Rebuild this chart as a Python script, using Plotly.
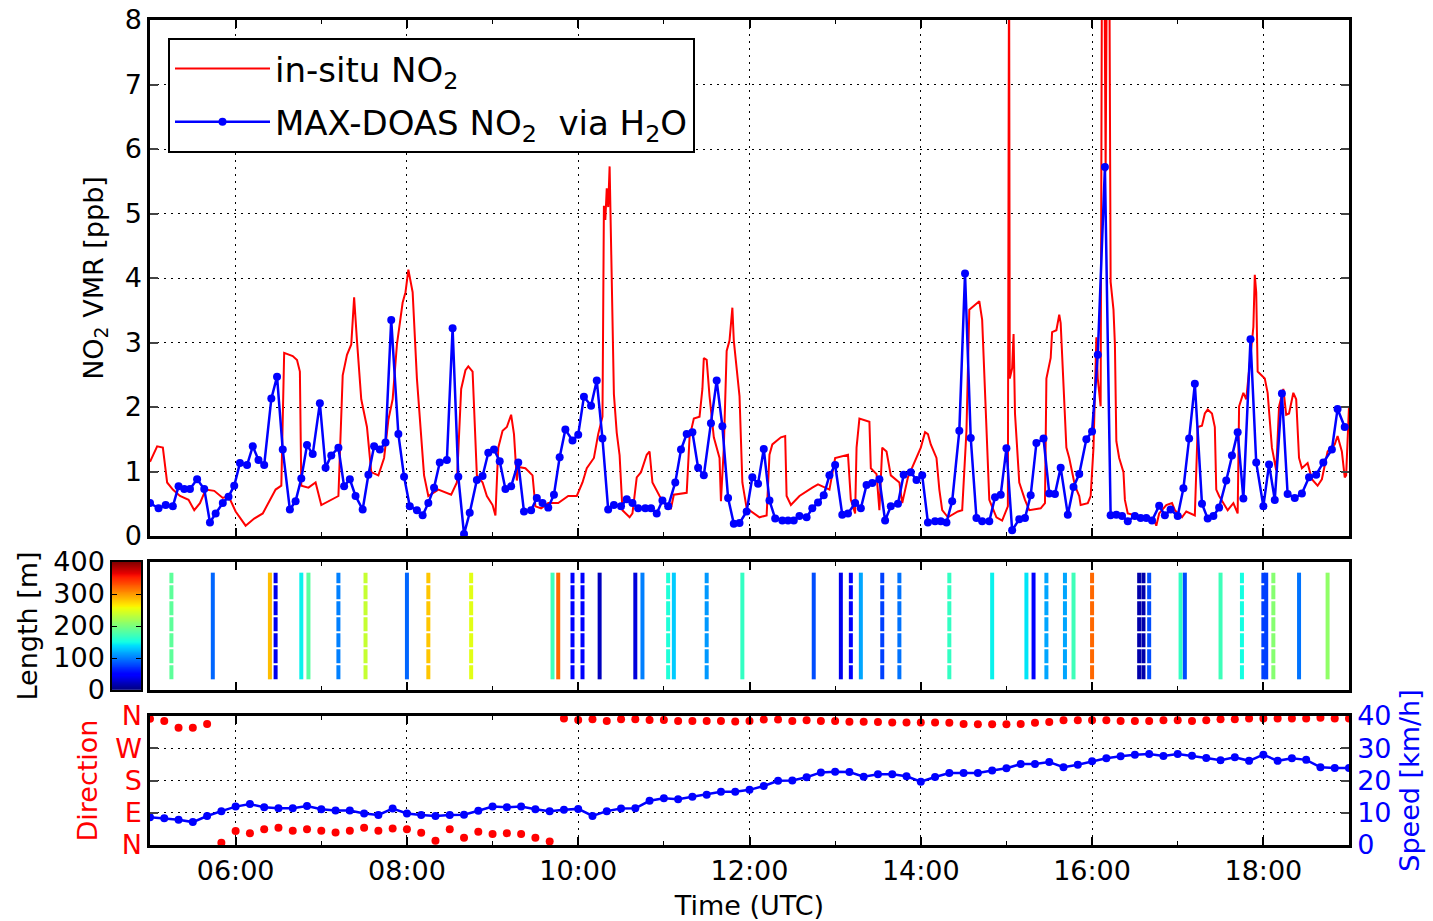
import numpy as np
import plotly.graph_objects as go

DAY = "2016-07-07 "

# ---------------- in-situ NO2 (ppb) ----------------
insitu_time = [
    "05:00", "05:05", "05:09", "05:10", "05:12", "05:16", "05:21", "05:27", "05:31", "05:35",
    "05:39", "05:45", "05:51", "05:55", "06:00", "06:07", "06:13", "06:19", "06:24", "06:28",
    "06:32", "06:34", "06:40", "06:43", "06:45", "06:46", "06:51", "06:56", "07:00", "07:07",
    "07:12", "07:15", "07:18", "07:21", "07:23", "07:25", "07:28", "07:32", "07:35", "07:40",
    "07:44", "07:47", "07:50", "07:53", "07:57", "07:59", "08:01", "08:04", "08:07", "08:12",
    "08:15", "08:22", "08:31", "08:35", "08:38", "08:41", "08:43", "08:46", "08:48", "08:49",
    "08:53", "08:56", "09:00", "09:02", "09:04", "09:07", "09:10", "09:13", "09:15", "09:17",
    "09:18", "09:23", "09:28", "09:30", "09:34", "09:39", "09:46", "09:53", "09:59", "10:03",
    "10:06", "10:11", "10:14", "10:17", "10:18", "10:19", "10:20", "10:21", "10:22", "10:23",
    "10:24", "10:25", "10:27", "10:29", "10:31", "10:36", "10:38", "10:41", "10:44", "10:48",
    "10:50", "10:52", "10:57", "11:02", "11:05", "11:07", "11:16", "11:18", "11:21", "11:25",
    "11:27", "11:28", "11:30", "11:32", "11:35", "11:39", "11:40", "11:42", "11:44", "11:46",
    "11:48", "11:49", "11:53", "11:55", "11:58", "12:07", "12:12", "12:14", "12:16", "12:22",
    "12:25", "12:26", "12:29", "12:35", "12:44", "12:48", "12:56", "13:00", "13:09", "13:11",
    "13:14", "13:15", "13:17", "13:24", "13:25", "13:29", "13:31", "13:33", "13:36", "13:39",
    "13:45", "13:47", "13:51", "13:58", "14:00", "14:03", "14:05", "14:07", "14:11", "14:13",
    "14:15", "14:19", "14:26", "14:29", "14:32", "14:34", "14:41", "14:43", "14:46", "14:48",
    "14:53", "14:57", "15:01:00", "15:01:20", "15:01:50", "15:02:20", "15:04", "15:05", "15:06", "15:09",
    "15:13", "15:16", "15:24", "15:27", "15:28", "15:31", "15:32", "15:35", "15:37", "15:38",
    "15:40", "15:42", "15:44", "15:48", "15:51", "15:52", "15:57", "15:59", "16:01", "16:03",
    "16:04", "16:06", "16:07", "16:08:30", "16:09:30", "16:10:30", "16:12", "16:13", "16:15", "16:16",
    "16:17", "16:19", "16:22", "16:23", "16:25", "16:36", "16:43", "16:45", "16:47", "16:52",
    "16:56", "16:58", "17:03", "17:06", "17:12", "17:14", "17:17", "17:19", "17:21", "17:24",
    "17:26", "17:27", "17:29", "17:33", "17:35", "17:39", "17:42", "17:43", "17:46", "17:48",
    "17:50", "17:53", "17:54", "17:55", "17:56", "18:01", "18:03", "18:06", "18:09", "18:11",
    "18:14", "18:16", "18:18", "18:21", "18:23", "18:25", "18:27", "18:31", "18:34", "18:38",
    "18:41", "18:45", "18:50", "18:52", "18:55", "18:57", "18:58", "19:00",
]
insitu_no2 = [
    1.15, 1.39, 1.37, 1.21, 0.83, 0.72, 0.62, 0.56, 0.40, 0.51,
    0.72, 0.70, 0.59, 0.62, 0.38, 0.16, 0.27, 0.35, 0.56, 0.72,
    0.78, 2.84, 2.79, 2.73, 2.55, 0.78, 0.75, 0.83, 0.48, 0.56,
    0.62, 2.49, 2.81, 2.97, 3.70, 3.03, 2.12, 1.69, 0.99, 0.94,
    1.21, 1.80, 2.12, 2.97, 3.62, 3.78, 4.13, 3.78, 2.44, 0.94,
    0.62, 0.72, 0.64, 0.83, 2.28, 2.57, 2.63, 2.55, 1.53, 0.94,
    0.83, 0.62, 0.48, 0.32, 1.37, 1.63, 1.69, 1.88, 1.58, 0.86,
    1.07, 1.05, 0.94, 0.46, 0.43, 0.51, 0.51, 0.62, 0.62, 0.83,
    1.05, 1.21, 1.58, 1.85, 5.12, 4.90, 5.39, 5.10, 5.73, 4.69,
    3.20, 2.20, 1.60, 1.25, 0.40, 0.29, 0.35, 0.91, 0.99, 1.26,
    1.31, 0.83, 0.62, 0.46, 0.43, 0.64, 0.67, 1.53, 1.82, 1.85,
    2.28, 2.76, 2.73, 2.17, 1.53, 1.21, 0.54, 1.37, 2.87, 3.03,
    3.54, 3.03, 2.17, 0.83, 0.43, 0.29, 0.32, 1.26, 1.42, 1.53,
    1.55, 0.62, 0.48, 0.62, 0.75, 0.80, 0.72, 1.21, 1.26, 0.56,
    0.35, 1.37, 1.82, 1.77, 1.05, 0.96, 0.40, 1.37, 1.31, 0.94,
    0.83, 0.51, 0.91, 1.26, 1.37, 1.61, 1.58, 1.42, 1.21, 0.72,
    0.40, 0.29, 0.38, 0.40, 1.63, 3.51, 3.64, 3.35, 1.74, 0.56,
    0.29, 0.24, 0.46, 9.50, 9.50, 2.44, 2.60, 3.13, 1.90, 0.83,
    0.56, 0.40, 0.43, 0.51, 2.44, 2.76, 3.16, 3.19, 3.43, 3.30,
    2.44, 1.37, 1.21, 0.78, 0.62, 0.48, 0.51, 0.62, 1.37, 3.08,
    2.44, 2.01, 9.50, 9.50, 5.65, 9.50, 9.50, 3.94, 3.51, 2.97,
    1.47, 1.21, 0.99, 0.56, 0.35, 0.29, 0.27, 0.16, 0.35, 0.48,
    0.51, 0.40, 0.29, 0.38, 0.32, 1.69, 1.71, 1.90, 1.96, 1.90,
    1.69, 0.72, 0.62, 0.46, 0.40, 0.51, 0.35, 2.01, 2.22, 2.12,
    2.55, 3.24, 4.05, 3.78, 2.55, 2.44, 2.22, 1.37, 1.02, 2.01,
    2.28, 1.88, 1.90, 2.22, 2.12, 1.21, 1.05, 1.13, 0.88, 0.78,
    0.88, 1.31, 1.42, 1.55, 1.31, 0.91, 0.94, 2.01,
]

# ---------------- MAX-DOAS NO2 via H2O (ppb) ----------------
doas_time = [
    "05:00", "05:06", "05:11", "05:16", "05:20", "05:24", "05:28", "05:33", "05:38", "05:42",
    "05:46", "05:51", "05:55", "05:59", "06:03", "06:08", "06:12", "06:16", "06:20", "06:25",
    "06:29", "06:33", "06:38", "06:42", "06:46", "06:50", "06:54", "06:59", "07:03", "07:07",
    "07:12", "07:16", "07:20", "07:24", "07:29", "07:33", "07:37", "07:41", "07:45", "07:49",
    "07:54", "07:58", "08:02", "08:07", "08:11", "08:15", "08:19", "08:23", "08:28", "08:32",
    "08:36", "08:40", "08:44", "08:49", "08:53", "08:57", "09:01", "09:05", "09:09", "09:13",
    "09:18", "09:22", "09:27", "09:31", "09:35", "09:39", "09:43", "09:47", "09:51", "09:56",
    "10:00", "10:04", "10:09", "10:13", "10:17", "10:21", "10:25", "10:30", "10:34", "10:38",
    "10:42", "10:47", "10:51", "10:55", "10:59", "11:03", "11:08", "11:12", "11:16", "11:20",
    "11:24", "11:28", "11:33", "11:37", "11:41", "11:45", "11:49", "11:53", "11:58", "12:02",
    "12:06", "12:10", "12:14", "12:18", "12:23", "12:27", "12:31", "12:35", "12:40", "12:44",
    "12:48", "12:52", "12:56", "13:00", "13:05", "13:09", "13:14", "13:18", "13:22", "13:26",
    "13:31", "13:35", "13:39", "13:44", "13:48", "13:53", "13:57", "14:01", "14:05", "14:10",
    "14:14", "14:18", "14:22", "14:27", "14:31", "14:35", "14:39", "14:43", "14:48", "14:52",
    "14:56", "15:00", "15:04", "15:09", "15:13", "15:17", "15:21", "15:26", "15:30", "15:34",
    "15:38", "15:43", "15:47", "15:51", "15:56", "16:00", "16:04", "16:09", "16:13", "16:17",
    "16:21", "16:25", "16:30", "16:34", "16:38", "16:42", "16:47", "16:51", "16:55", "17:00",
    "17:04", "17:08", "17:12", "17:17", "17:21", "17:25", "17:29", "17:34", "17:38", "17:42",
    "17:46", "17:51", "17:55", "18:00", "18:04", "18:08", "18:13", "18:17", "18:22", "18:27",
    "18:32", "18:37", "18:42", "18:48", "18:52", "18:57",
]
doas_no2 = [
    0.51, 0.43, 0.48, 0.46, 0.77, 0.73, 0.73, 0.88, 0.73, 0.21,
    0.35, 0.51, 0.61, 0.78, 1.13, 1.10, 1.39, 1.18, 1.10, 2.13,
    2.47, 1.34, 0.41, 0.54, 0.89, 1.41, 1.27, 2.06, 1.06, 1.25,
    1.37, 0.77, 0.88, 0.62, 0.41, 0.95, 1.39, 1.34, 1.45, 3.35,
    1.58, 0.92, 0.46, 0.40, 0.32, 0.51, 0.75, 1.14, 1.18, 3.22,
    0.92, 0.03, 0.36, 0.87, 0.93, 1.29, 1.34, 1.16, 0.73, 0.77,
    1.14, 0.38, 0.40, 0.59, 0.51, 0.44, 0.64, 1.22, 1.65, 1.48,
    1.57, 2.16, 2.02, 2.41, 1.51, 0.41, 0.48, 0.46, 0.57, 0.51,
    0.43, 0.43, 0.43, 0.35, 0.55, 0.46, 0.83, 1.34, 1.58, 1.61,
    1.06, 0.94, 1.75, 2.41, 1.70, 0.59, 0.19, 0.20, 0.38, 0.91,
    0.81, 1.35, 0.55, 0.27, 0.24, 0.24, 0.24, 0.31, 0.29, 0.43,
    0.52, 0.63, 0.94, 1.10, 0.33, 0.35, 0.51, 0.43, 0.79, 0.82,
    0.88, 0.24, 0.46, 0.50, 0.95, 0.99, 0.87, 0.94, 0.21, 0.23,
    0.23, 0.21, 0.54, 1.63, 4.07, 1.52, 0.28, 0.23, 0.23, 0.60,
    0.64, 1.36, 0.09, 0.26, 0.28, 0.63, 1.44, 1.51, 0.66, 0.65,
    1.06, 0.33, 0.76, 0.96, 1.50, 1.62, 2.81, 5.72, 0.32, 0.33,
    0.31, 0.23, 0.31, 0.28, 0.28, 0.24, 0.47, 0.32, 0.41, 0.31,
    0.74, 1.51, 2.36, 0.50, 0.27, 0.31, 0.44, 0.86, 1.25, 1.61,
    0.58, 3.05, 1.14, 0.46, 1.11, 0.56, 2.21, 0.65, 0.59, 0.66,
    0.91, 0.95, 1.14, 1.34, 1.97, 1.69,
]

# ---------------- light path segments (length in m) ----------------
seg_time = [
    "05:15", "05:44", "06:24", "06:28", "06:46", "06:51", "07:12", "07:31", "08:00", "08:15",
    "08:45", "09:42", "09:46", "09:56", "10:03", "10:15", "10:40", "10:45", "11:03", "11:07",
    "11:30", "11:55", "12:45", "13:04", "13:11", "13:18", "13:33", "13:45", "14:20", "14:50",
    "15:14", "15:19", "15:28", "15:41", "15:47", "16:00", "16:33", "16:36", "16:40", "17:02",
    "17:05", "17:30", "17:45", "18:00", "18:02", "18:07", "18:25", "18:45",
]
seg_length = [
    185, 90, 284, 38, 145, 183, 100, 236, 90, 280,
    250, 170, 320, 46, 46, 22, 32, 100, 155, 130,
    110, 165, 80, 38, 50, 115, 75, 95, 165, 145,
    140, 46, 115, 115, 170, 320, 15, 15, 80, 165,
    80, 170, 150, 75, 75, 205, 95, 210,
]
seg_dashed = [
    1, 0, 0, 1, 0, 0, 1, 1, 0, 1,
    1, 0, 0, 1, 1, 0, 0, 0, 1, 0,
    1, 0, 0, 0, 1, 0, 1, 1, 1, 0,
    0, 0, 1, 1, 0, 1, 1, 1, 1, 0,
    0, 0, 1, 1, 0, 1, 0, 0,
]

# ---------------- wind ----------------
wind_time = [
    "05:00", "05:10", "05:20", "05:30", "05:40", "05:50", "06:00", "06:10", "06:20", "06:30",
    "06:40", "06:50", "07:00", "07:10", "07:20", "07:30", "07:40", "07:50", "08:00", "08:10",
    "08:20", "08:30", "08:40", "08:50", "09:00", "09:10", "09:20", "09:30", "09:40", "09:50",
    "10:00", "10:10", "10:20", "10:30", "10:40", "10:50", "11:00", "11:10", "11:20", "11:30",
    "11:40", "11:50", "12:00", "12:10", "12:20", "12:30", "12:40", "12:50", "13:00", "13:10",
    "13:20", "13:30", "13:40", "13:50", "14:00", "14:10", "14:20", "14:30", "14:40", "14:50",
    "15:00", "15:10", "15:20", "15:30", "15:40", "15:50", "16:00", "16:10", "16:20", "16:30",
    "16:40", "16:50", "17:00", "17:10", "17:20", "17:30", "17:40", "17:50", "18:00", "18:10",
    "18:20", "18:30", "18:40", "18:50", "19:00",
]
wind_dir = [
    352, 346, 327, 327, 338, 6.5, 39, 33, 44, 48,
    40, 44, 40, 35, 40, 48, 40, 46, 44, 34,
    12, 44, 20, 37, 31, 33, 31, 20, 10, 353,
    349, 351, 346, 351, 351, 349, 349, 346, 346, 346,
    346, 345, 346, 350, 350, 346, 348, 346, 346, 344,
    344, 343, 342, 342, 342, 342, 341, 338, 337, 337,
    337, 338, 341, 343, 348, 348, 348, 348, 346, 346,
    346, 348, 348, 346, 348, 351, 351, 353, 353, 353,
    353, 353, 355, 353, 353,
]
wind_speed = [
    8.6, 8.3, 7.8, 7.1, 9.0, 10.5, 11.9, 12.7, 11.7, 11.4,
    11.4, 12.1, 11.1, 10.7, 10.7, 9.8, 9.3, 11.3, 9.8, 9.3,
    9.0, 9.3, 9.4, 10.6, 11.9, 11.7, 11.9, 11.1, 10.5, 10.9,
    11.2, 9.0, 10.5, 11.3, 11.4, 13.7, 14.5, 14.2, 15.0, 15.6,
    16.5, 16.5, 17.1, 18.3, 19.9, 20.0, 21.0, 22.5, 22.7, 22.6,
    21.2, 21.9, 21.9, 21.3, 19.6, 21.1, 22.3, 22.3, 22.3, 23.1,
    23.8, 25.1, 25.1, 25.7, 24.1, 24.9, 26.0, 26.9, 27.5, 28.0,
    28.2, 27.6, 28.2, 27.7, 27.0, 26.3, 27.2, 26.1, 28.0, 26.1,
    26.9, 26.4, 24.1, 23.9, 23.9,
]

dir_ticks = [0, 90, 180, 270, 360]
dir_labels = ["N", "E", "S", "W", "N"]
LEN_MAX = 400

# ---------------- helpers ----------------
JET = {
    "r": [(0, 0), (0.35, 0), (0.66, 1), (0.89, 1), (1, 0.5)],
    "g": [(0, 0), (0.125, 0), (0.375, 1), (0.64, 1), (0.91, 0), (1, 0)],
    "b": [(0, 0.5), (0.11, 1), (0.34, 1), (0.65, 0), (1, 0)],
}


def jet(t):
    vals = []
    for k in ("r", "g", "b"):
        xs = [p[0] for p in JET[k]]
        ys = [p[1] for p in JET[k]]
        vals.append(int(round(255 * float(np.interp(t, xs, ys)))))
    return "rgb(%d,%d,%d)" % tuple(vals)


stops = sorted(set(p[0] for k in JET for p in JET[k]))
jet_scale = [[s, jet(s)] for s in stops]


def T(s):
    return DAY + s


W, H = 1433, 921
XD = [150 / W, 1349 / W]
Y_TOP = [(H - 536) / H, (H - 20) / H]
Y_MID = [(H - 690) / H, (H - 562) / H]
Y_BOT = [(H - 845) / H, (H - 716) / H]
X_CB = [112 / W, 141 / W]

FONT = "DejaVu Sans"
FS = 27
XR = [T("05:00"), T("19:00")]

fig = go.Figure()

# top panel
fig.add_trace(go.Scatter(
    x=[T(t) for t in insitu_time], y=insitu_no2, mode="lines",
    line=dict(color="#ff0000", width=2), name="in-situ NO<sub>2</sub>",
    legendgroup="a", xaxis="x", yaxis="y"))
fig.add_trace(go.Scatter(
    x=[T(t) for t in doas_time], y=doas_no2, mode="lines+markers",
    line=dict(color="#0000ff", width=2.5), marker=dict(color="#0000ff", size=8),
    name="MAX-DOAS NO<sub>2</sub>  via H<sub>2</sub>O", legendgroup="b",
    xaxis="x", yaxis="y"))

# middle panel: segments
for t, L, d in zip(seg_time, seg_length, seg_dashed):
    fig.add_trace(go.Scatter(
        x=[T(t), T(t)], y=[0, 1], mode="lines",
        line=dict(color=jet(L / LEN_MAX), width=4, dash="14px,2px" if d else "solid"),
        showlegend=False, hoverinfo="skip", xaxis="x2", yaxis="y2"))

# colour bar (heatmap of the colour scale)
cb_levels = np.linspace(0, LEN_MAX, 401)
fig.add_trace(go.Heatmap(
    x=[0], y=cb_levels, z=[[v] for v in cb_levels], colorscale=jet_scale,
    zmin=0, zmax=LEN_MAX, showscale=False, xaxis="x4", yaxis="y5", hoverinfo="skip"))

# bottom panel
fig.add_trace(go.Scatter(
    x=[T(t) for t in wind_time], y=wind_dir, mode="markers",
    marker=dict(color="#ff0000", size=8), showlegend=False, xaxis="x3", yaxis="y3"))
fig.add_trace(go.Scatter(
    x=[T(t) for t in wind_time], y=wind_speed, mode="lines+markers",
    line=dict(color="#0000ff", width=2.5), marker=dict(color="#0000ff", size=8),
    showlegend=False, xaxis="x3", yaxis="y4"))

grid = dict(showgrid=True, gridcolor="black", gridwidth=1, griddash="2px,5px")
frame = dict(showline=True, linecolor="black", linewidth=2.5, zeroline=False, automargin=False)
cbframe = dict(showline=True, linecolor="black", linewidth=1.5, zeroline=False, automargin=False)
xcommon = dict(type="date", range=XR, domain=XD, tick0=T("06:00"), dtick=7200000,
               ticks="inside", ticklen=8, tickwidth=1.5, tickcolor="black",
               minor=dict(dtick=3600000, ticks="inside", ticklen=4, tickwidth=1.2, tickcolor="black",
                          showgrid=False),
               mirror="ticks", **frame)

fig.update_layout(
    width=W, height=H, margin=dict(l=0, r=0, t=0, b=0),
    paper_bgcolor="white", plot_bgcolor="white",
    font=dict(family=FONT, size=FS, color="black"),
    showlegend=True,
    legend=dict(x=168 / W, y=(H - 38) / H, xanchor="left", yanchor="top",
                bgcolor="white", bordercolor="black", borderwidth=2,
                font=dict(size=34, family=FONT), itemwidth=95,
                traceorder="grouped", tracegroupgap=6),
    xaxis=dict(anchor="y", showticklabels=False, **grid, **xcommon),
    yaxis=dict(anchor="x", domain=Y_TOP, range=[0, 8], dtick=1, ticks="inside", ticklen=8,
               tickwidth=1.5, mirror="ticks", tickfont=dict(size=FS),
               title=dict(text="NO<sub>2</sub> VMR [ppb]", font=dict(size=FS), standoff=14),
               **grid, **frame),
    xaxis2=dict(anchor="y2", showticklabels=False, showgrid=False, **xcommon),
    yaxis2=dict(anchor="x2", domain=Y_MID, range=[-0.1, 1.1], showticklabels=False,
                ticks="", showgrid=False, mirror=True, **frame),
    xaxis3=dict(anchor="y3", showticklabels=True, tickformat="%H:%M",
                tickfont=dict(size=FS),
                title=dict(text="Time (UTC)", font=dict(size=FS), standoff=12),
                **grid, **xcommon),
    yaxis3=dict(anchor="x3", domain=Y_BOT, range=[0, 360], tickvals=dir_ticks,
                ticktext=dir_labels, ticks="inside", ticklen=8, tickwidth=1.5,
                tickfont=dict(size=FS, color="#ff0000"),
                title=dict(text="Direction", font=dict(size=FS, color="#ff0000"), standoff=10),
                **grid, **frame),
    yaxis4=dict(anchor="x3", overlaying="y3", side="right", range=[0, 40], dtick=10,
                ticks="inside", ticklen=8, tickwidth=1.5, showgrid=False,
                tickfont=dict(size=FS, color="#0000ff"),
                title=dict(text="Speed [km/h]", font=dict(size=FS, color="#0000ff"), standoff=10),
                **frame),
    xaxis4=dict(anchor="y5", domain=X_CB, range=[-0.5, 0.5], showticklabels=False,
                ticks="", showgrid=False, mirror=True, fixedrange=True, **cbframe),
    yaxis5=dict(anchor="x4", domain=Y_MID, range=[0, LEN_MAX], dtick=100, ticks="inside",
                ticklen=5, tickwidth=1.2, tickcolor="black",
                showgrid=False, mirror="ticks", tickfont=dict(size=FS),
                title=dict(text="Length [m]", font=dict(size=FS), standoff=8), **cbframe),
)

fig.write_html("out.html")
